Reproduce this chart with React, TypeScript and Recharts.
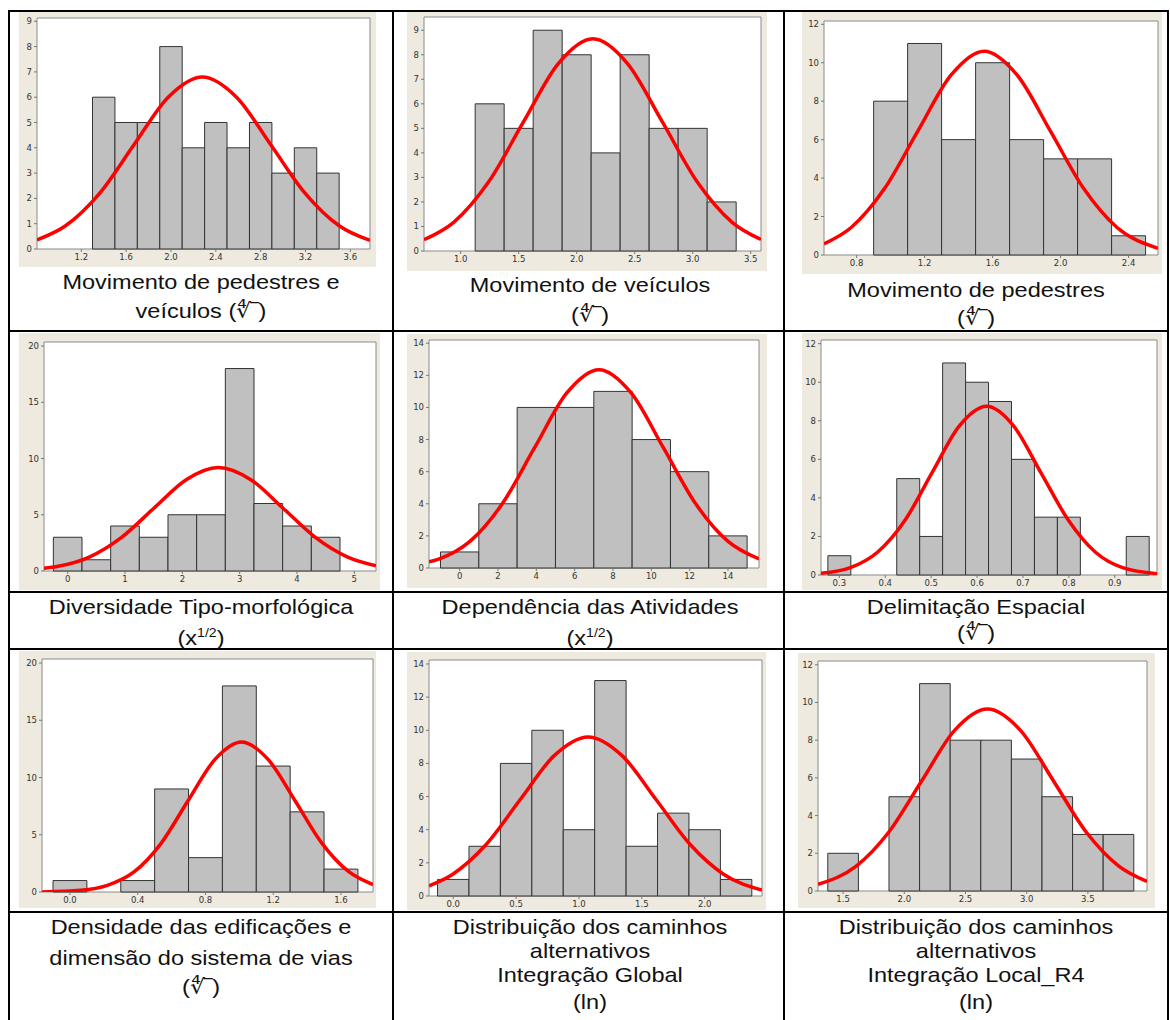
import React from 'react';
import { ComposedChart, Line, XAxis, YAxis, ReferenceArea } from 'recharts';

// ---------- values ----------

// 1. Movimento de pedestres e veículos
const c1Edges = [1.3, 1.5, 1.7, 1.9, 2.1, 2.3, 2.5, 2.7, 2.9, 3.1, 3.3, 3.5];
const c1Counts = [6, 5, 5, 8, 4, 5, 4, 5, 3, 4, 3];
const c1CurveX = [0.805, 1.06, 1.365, 1.67, 1.975, 2.28, 2.585, 2.89, 3.195, 3.5, 3.775];
const c1CurveY = [0.36, 0.92, 2.21, 4.12, 6.0, 6.8, 6.0, 4.12, 2.21, 0.92, 0.34];
const c1XTicks = ['1.2', '1.6', '2.0', '2.4', '2.8', '3.2', '3.6'];
const c1YTicks = ['0', '1', '2', '3', '4', '5', '6', '7', '8', '9'];
const c1XRange = [0.805, 3.775];
const c1YMax = 9.13;

// 2. Movimento de veículos
const c2Edges = [1.125, 1.375, 1.625, 1.875, 2.125, 2.375, 2.625, 2.875, 3.125, 3.375];
const c2Counts = [6, 5, 9, 8, 4, 8, 5, 5, 2];
const c2CurveX = [0.684, 0.94, 1.24, 1.54, 1.84, 2.14, 2.44, 2.74, 3.04, 3.34, 3.589];
const c2CurveY = [0.46, 1.17, 2.81, 5.25, 7.63, 8.65, 7.63, 5.25, 2.81, 1.17, 0.47];
const c2XTicks = ['1.0', '1.5', '2.0', '2.5', '3.0', '3.5'];
const c2YTicks = ['0', '1', '2', '3', '4', '5', '6', '7', '8', '9'];
const c2XRange = [0.684, 3.589];
const c2YMax = 9.54;

// 3. Movimento de pedestres
const c3Edges = [0.9, 1.1, 1.3, 1.5, 1.7, 1.9, 2.1, 2.3, 2.5];
const c3Counts = [8, 11, 6, 10, 6, 5, 5, 1];
const c3CurveX = [0.608, 0.768, 0.963, 1.159, 1.355, 1.55, 1.745, 1.941, 2.137, 2.332, 2.573];
const c3CurveY = [0.58, 1.43, 3.44, 6.43, 9.35, 10.6, 9.35, 6.43, 3.44, 1.43, 0.35];
const c3XTicks = ['0.8', '1.2', '1.6', '2.0', '2.4'];
const c3YTicks = ['0', '2', '4', '6', '8', '10', '12'];
const c3XRange = [0.608, 2.573];
const c3YMax = 12.17;

// 4. Diversidade Tipo-morfológica
const c4Edges = [-0.25, 0.25, 0.75, 1.25, 1.75, 2.25, 2.75, 3.25, 3.75, 4.25, 4.75];
const c4Counts = [3, 1, 4, 3, 5, 5, 18, 6, 4, 3];
const c4CurveX = [-0.413, -0.188, 0.376, 0.94, 1.503, 2.067, 2.63, 3.194, 3.757, 4.32, 4.884, 5.378];
const c4CurveY = [0.24, 0.4, 1.24, 2.99, 5.58, 8.12, 9.2, 8.12, 5.58, 2.99, 1.24, 0.47];
const c4XTicks = ['0', '1', '2', '3', '4', '5'];
const c4YTicks = ['0', '5', '10', '15', '20'];
const c4XRange = [-0.413, 5.378];
const c4YMax = 20.36;

// 5. Dependência das Atividades
const c5Edges = [-1, 1, 3, 5, 7, 9, 11, 13, 15];
const c5Counts = [1, 4, 10, 10, 11, 8, 6, 2];
const c5CurveX = [-1.6, -1.13, 0.55, 2.23, 3.91, 5.59, 7.27, 8.95, 10.63, 12.31, 13.99, 15.62];
const c5CurveY = [0.38, 0.54, 1.67, 4.01, 7.49, 10.9, 12.35, 10.9, 7.49, 4.01, 1.67, 0.56];
const c5XTicks = ['0', '2', '4', '6', '8', '10', '12', '14'];
const c5YTicks = ['0', '2', '4', '6', '8', '10', '12', '14'];
const c5XRange = [-1.6, 15.62];
const c5YMax = 14.2;

// 6. Delimitação Espacial
const c6Edges = [0.275, 0.325, 0.375, 0.425, 0.475, 0.525, 0.575, 0.625, 0.675, 0.725, 0.775, 0.825, 0.875, 0.925, 0.975];
const c6Counts = [1, 0, 0, 5, 2, 11, 10, 9, 6, 3, 3, 0, 0, 2];
const c6CurveX = [0.26, 0.324, 0.383, 0.443, 0.502, 0.561, 0.621, 0.68, 0.739, 0.799, 0.858, 0.917, 0.992];
const c6CurveY = [0.09, 0.38, 1.18, 2.84, 5.31, 7.72, 8.75, 7.72, 5.31, 2.84, 1.18, 0.38, 0.07];
const c6XTicks = ['0.3', '0.4', '0.5', '0.6', '0.7', '0.8', '0.9'];
const c6YTicks = ['0', '2', '4', '6', '8', '10', '12'];
const c6XRange = [0.26, 0.992];
const c6YMax = 12.19;

// 7. Densidade das edificações e dimensão do sistema de vias
const c7Edges = [-0.1, 0.1, 0.3, 0.5, 0.7, 0.9, 1.1, 1.3, 1.5, 1.7];
const c7Counts = [1, 0, 1, 9, 3, 18, 11, 7, 2];
const c7CurveX = [-0.165, 0.063, 0.221, 0.38, 0.538, 0.696, 0.855, 1.013, 1.171, 1.33, 1.488, 1.646, 1.789];
const c7CurveY = [0.01, 0.15, 0.58, 1.77, 4.25, 7.95, 11.56, 13.1, 11.56, 7.95, 4.25, 1.77, 0.65];
const c7XTicks = ['0.0', '0.4', '0.8', '1.2', '1.6'];
const c7YTicks = ['0', '5', '10', '15', '20'];
const c7XRange = [-0.165, 1.789];
const c7YMax = 20.35;

// 8. Integração Global
const c8Edges = [-0.125, 0.125, 0.375, 0.625, 0.875, 1.125, 1.375, 1.625, 1.875, 2.125, 2.375];
const c8Counts = [1, 3, 8, 10, 4, 13, 3, 5, 4, 1];
const c8CurveX = [-0.193, -0.007, 0.263, 0.533, 0.803, 1.073, 1.343, 1.613, 1.883, 2.153, 2.456];
const c8CurveY = [0.61, 1.3, 3.12, 5.82, 8.47, 9.6, 8.47, 5.82, 3.12, 1.3, 0.36];
const c8XTicks = ['0.0', '0.5', '1.0', '1.5', '2.0'];
const c8YTicks = ['0', '2', '4', '6', '8', '10', '12', '14'];
const c8XRange = [-0.193, 2.456];
const c8YMax = 14.24;

// 9. Integração Local_R4
const c9Edges = [1.375, 1.625, 1.875, 2.125, 2.375, 2.625, 2.875, 3.125, 3.375, 3.625, 3.875];
const c9Counts = [2, 0, 5, 11, 8, 8, 7, 5, 3, 3];
const c9CurveX = [1.295, 1.605, 1.874, 2.143, 2.411, 2.68, 2.949, 3.218, 3.486, 3.755, 3.983];
const c9CurveY = [0.35, 1.31, 3.13, 5.85, 8.52, 9.65, 8.52, 5.85, 3.13, 1.31, 0.51];
const c9XTicks = ['1.5', '2.0', '2.5', '3.0', '3.5'];
const c9YTicks = ['0', '2', '4', '6', '8', '10', '12'];
const c9XRange = [1.295, 3.983];
const c9YMax = 12.2;

// captions (one entry per cell, one string per line; "^1/2" becomes a superscript)
const captions = [
  ['Movimento de pedestres e', 'veículos (∜‾)'],
  ['Movimento de veículos', '(∜‾)'],
  ['Movimento de pedestres', '(∜‾)'],
  ['Diversidade Tipo-morfológica', '(x^1/2)'],
  ['Dependência das Atividades', '(x^1/2)'],
  ['Delimitação Espacial', '(∜‾)'],
  ['Densidade das edificações e', 'dimensão do sistema de vias', '(∜‾)'],
  ['Distribuição dos caminhos', 'alternativos', 'Integração Global', '(ln)'],
  ['Distribuição dos caminhos', 'alternativos', 'Integração Local_R4', '(ln)'],
];

// ---------- layout (page pixels) ----------
// panel: beige picture box; plot: white framed area inside it
const layout = [
  { panel: [19, 12, 376, 267], plot: [37, 18, 370, 249], cx: 201, ys: [282, 311] },
  { panel: [407, 12, 767, 271], plot: [424, 17, 761, 251], cx: 590, ys: [285, 315] },
  { panel: [802, 12, 1162, 274], plot: [824, 21, 1158, 255], cx: 976, ys: [290, 318] },
  { panel: [19, 333, 380, 590], plot: [44, 342, 376, 571], cx: 201, ys: [607, 633] },
  { panel: [407, 334, 767, 588], plot: [429, 340, 759, 568], cx: 590, ys: [607, 633] },
  { panel: [802, 333, 1162, 590], plot: [821, 340, 1157, 575], cx: 976, ys: [607, 633] },
  { panel: [19, 651, 376, 908], plot: [42, 659, 373, 892], cx: 201, ys: [927, 958, 987] },
  { panel: [407, 652, 766, 910], plot: [429, 660, 762, 896], cx: 590, ys: [927, 951, 975, 1002] },
  { panel: [798, 653, 1155, 908], plot: [818, 661, 1147, 891], cx: 976, ys: [927, 951, 975, 1002] },
];

const vLines = [8, 392, 783, 1167];
const hLines = [10, 330, 591, 648, 911];

const charts = [
  { edges: c1Edges, counts: c1Counts, cx: c1CurveX, cy: c1CurveY, xt: c1XTicks, yt: c1YTicks, xr: c1XRange, ym: c1YMax },
  { edges: c2Edges, counts: c2Counts, cx: c2CurveX, cy: c2CurveY, xt: c2XTicks, yt: c2YTicks, xr: c2XRange, ym: c2YMax },
  { edges: c3Edges, counts: c3Counts, cx: c3CurveX, cy: c3CurveY, xt: c3XTicks, yt: c3YTicks, xr: c3XRange, ym: c3YMax },
  { edges: c4Edges, counts: c4Counts, cx: c4CurveX, cy: c4CurveY, xt: c4XTicks, yt: c4YTicks, xr: c4XRange, ym: c4YMax },
  { edges: c5Edges, counts: c5Counts, cx: c5CurveX, cy: c5CurveY, xt: c5XTicks, yt: c5YTicks, xr: c5XRange, ym: c5YMax },
  { edges: c6Edges, counts: c6Counts, cx: c6CurveX, cy: c6CurveY, xt: c6XTicks, yt: c6YTicks, xr: c6XRange, ym: c6YMax },
  { edges: c7Edges, counts: c7Counts, cx: c7CurveX, cy: c7CurveY, xt: c7XTicks, yt: c7YTicks, xr: c7XRange, ym: c7YMax },
  { edges: c8Edges, counts: c8Counts, cx: c8CurveX, cy: c8CurveY, xt: c8XTicks, yt: c8YTicks, xr: c8XRange, ym: c8YMax },
  { edges: c9Edges, counts: c9Counts, cx: c9CurveX, cy: c9CurveY, xt: c9XTicks, yt: c9YTicks, xr: c9XRange, ym: c9YMax },
];

const tickStyle = { fontSize: 8.5, fill: '#333', fontFamily: 'DejaVu Sans, Verdana, sans-serif' };

function Histogram({ chart, pos }: { chart: any; pos: any }) {
  const [pl, pt, pr, pb] = pos.panel;
  const [ql, qt, qr, qb] = pos.plot;
  const data = chart.cx.map((x: number, i: number) => ({ x, y: chart.cy[i] }));
  const xTicks = chart.xt.map(Number);
  const yTicks = chart.yt.map(Number);
  return (
    <div style={{ position: 'absolute', left: pl, top: pt, width: pr - pl, height: pb - pt, background: '#eeeadf' }}>
      <ComposedChart
        width={pr - pl}
        height={pb - pt}
        data={data}
        margin={{ top: qt - pt, right: pr - qr, bottom: 0, left: 0 }}
      >
        <XAxis
          dataKey="x"
          type="number"
          domain={chart.xr}
          allowDataOverflow
          ticks={xTicks}
          tickFormatter={(v: number) => chart.xt[xTicks.indexOf(v)] ?? String(v)}
          interval={0}
          height={pb - qb}
          axisLine={false}
          tickLine={{ stroke: '#777' }}
          tickSize={3}
          tick={tickStyle}
        />
        <YAxis
          type="number"
          domain={[0, chart.ym]}
          allowDataOverflow
          ticks={yTicks}
          tickFormatter={(v: number) => chart.yt[yTicks.indexOf(v)] ?? String(v)}
          interval={0}
          width={ql - pl}
          axisLine={false}
          tickLine={{ stroke: '#777' }}
          tickSize={3}
          tick={tickStyle}
        />
        <ReferenceArea
          x1={chart.xr[0]}
          x2={chart.xr[1]}
          y1={0}
          y2={chart.ym}
          fill="#ffffff"
          fillOpacity={1}
          stroke="#8a8a8a"
          strokeWidth={1}
          ifOverflow="visible"
        />
        {chart.counts.map((c: number, i: number) =>
          c > 0 ? (
            <ReferenceArea
              key={i}
              x1={chart.edges[i]}
              x2={chart.edges[i + 1]}
              y1={0}
              y2={c}
              fill="#c0c0c0"
              fillOpacity={1}
              stroke="#333333"
              strokeWidth={1}
              ifOverflow="visible"
            />
          ) : null
        )}
        <Line
          type="monotone"
          dataKey="y"
          stroke="#ff0000"
          strokeWidth={3.5}
          dot={false}
          activeDot={false}
          isAnimationActive={false}
        />
      </ComposedChart>
    </div>
  );
}

function renderLine(text: string) {
  if (text.includes('^')) {
    const [base, sup] = text.split('^');
    return (
      <>
        {base}
        <sup style={{ fontSize: '0.6em' }}>{sup.replace(')', '')}</sup>)
      </>
    );
  }
  return text;
}

export default function App() {
  return (
    <div
      style={{
        position: 'absolute',
        left: 0,
        top: 0,
        width: 1170,
        height: 1020,
        overflow: 'hidden',
        background: '#ffffff',
        fontFamily: '"Liberation Sans", Arial, sans-serif',
      }}
    >
      {vLines.map((x, i) => (
        <div key={'v' + i} style={{ position: 'absolute', left: x, top: 10, width: 2, height: 1010, background: '#000' }} />
      ))}
      {hLines.map((y, i) => (
        <div key={'h' + i} style={{ position: 'absolute', left: 8, top: y, width: 1161, height: 2, background: '#000' }} />
      ))}
      {charts.map((c, i) => (
        <Histogram key={i} chart={c} pos={layout[i]} />
      ))}
      {captions.map((lines, i) =>
        lines.map((t, j) => (
          <div
            key={i + '-' + j}
            style={{
              position: 'absolute',
              left: layout[i].cx,
              top: layout[i].ys[j] - 13,
              height: 26,
              lineHeight: '26px',
              fontSize: 21,
              color: '#111',
              whiteSpace: 'nowrap',
              transform: 'translateX(-50%) scaleX(1.12)',
            }}
          >
            {renderLine(t)}
          </div>
        ))
      )}
    </div>
  );
}
